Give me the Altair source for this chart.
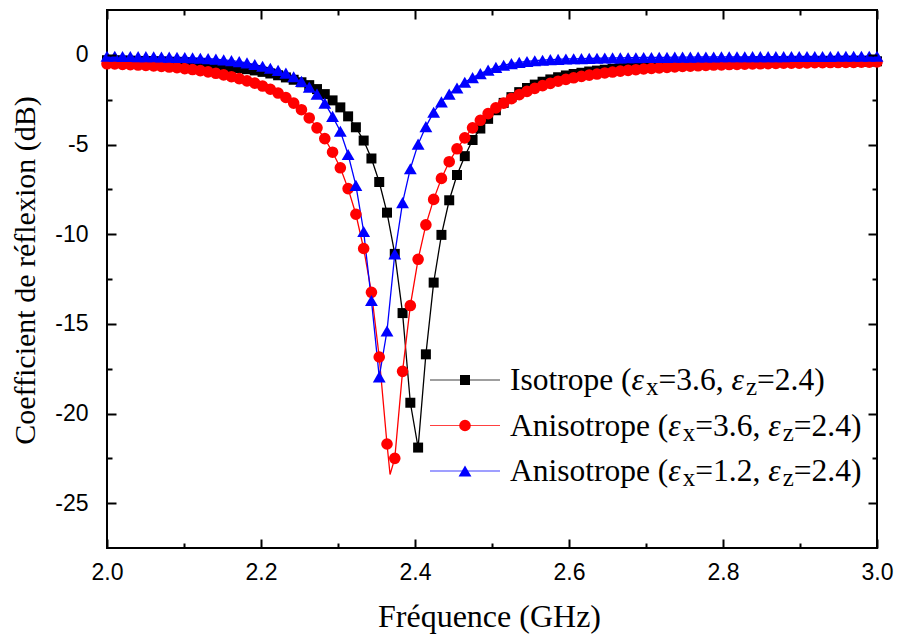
import altair as alt
import numpy as np
import pandas as pd

# ---------------- data ----------------
freq = np.round(np.linspace(2.0, 3.0, 100), 5)  # common frequency grid, GHz

iso_36 = [
    -0.30, -0.31, -0.32, -0.33, -0.34, -0.35, -0.37, -0.38, -0.40, -0.42,
    -0.44, -0.47, -0.50, -0.54, -0.58, -0.63, -0.68, -0.74, -0.80, -0.87,
    -0.95, -1.04, -1.14, -1.26, -1.39, -1.53, -1.69, -1.91, -2.19, -2.54,
    -2.93, -3.43, -4.04, -4.78, -5.78, -7.09, -8.80, -11.1, -14.4, -19.4,
    -21.9, -16.7, -12.7, -10.04, -8.11, -6.70, -5.65, -4.75, -4.11, -3.57,
    -3.09, -2.68, -2.36, -2.08, -1.85, -1.66, -1.50, -1.37, -1.25, -1.15,
    -1.07, -1.00, -0.93, -0.88, -0.83, -0.78, -0.74, -0.70, -0.67, -0.64,
    -0.61, -0.59, -0.57, -0.55, -0.53, -0.51, -0.50, -0.48, -0.47, -0.46,
    -0.45, -0.44, -0.43, -0.43, -0.42, -0.41, -0.41, -0.40, -0.40, -0.39,
    -0.39, -0.39, -0.38, -0.38, -0.38, -0.37, -0.37, -0.37, -0.37, -0.36,
]

aniso_36 = [
    -0.50, -0.51, -0.53, -0.55, -0.57, -0.59, -0.62, -0.65, -0.68, -0.72,
    -0.77, -0.82, -0.88, -0.95, -1.03, -1.12, -1.22, -1.33, -1.45, -1.58,
    -1.74, -1.92, -2.13, -2.38, -2.69, -3.06, -3.52, -4.07, -4.67, -5.43,
    -6.30, -7.46, -8.89, -10.8, -13.24, -16.85, -21.7, -22.5, -17.65, -13.98,
    -11.4, -9.48, -8.06, -6.89, -5.96, -5.24, -4.63, -4.07, -3.65, -3.28,
    -2.96, -2.69, -2.44, -2.22, -2.04, -1.87, -1.72, -1.59, -1.47, -1.37,
    -1.28, -1.20, -1.13, -1.07, -1.01, -0.96, -0.91, -0.87, -0.83, -0.79,
    -0.76, -0.73, -0.70, -0.67, -0.65, -0.63, -0.61, -0.59, -0.57, -0.56,
    -0.54, -0.53, -0.52, -0.51, -0.50, -0.49, -0.48, -0.47, -0.46, -0.46,
    -0.45, -0.44, -0.44, -0.43, -0.43, -0.42, -0.42, -0.41, -0.41, -0.40,
]

aniso_12 = [
    -0.08, -0.08, -0.09, -0.09, -0.10, -0.10, -0.11, -0.12, -0.13, -0.14,
    -0.15, -0.17, -0.19, -0.21, -0.24, -0.28, -0.32, -0.38, -0.45, -0.54,
    -0.64, -0.75, -0.87, -1.02, -1.22, -1.48, -1.80, -2.19, -2.69, -3.43,
    -4.26, -5.56, -7.28, -9.85, -13.7, -17.96, -15.4, -11.1, -8.24, -6.35,
    -4.98, -4.00, -3.20, -2.62, -2.19, -1.85, -1.53, -1.27, -1.05, -0.85,
    -0.70, -0.58, -0.49, -0.42, -0.37, -0.33, -0.30, -0.27, -0.25, -0.23,
    -0.22, -0.21, -0.20, -0.19, -0.18, -0.17, -0.17, -0.16, -0.16, -0.15,
    -0.15, -0.14, -0.14, -0.13, -0.13, -0.13, -0.12, -0.12, -0.12, -0.11,
    -0.11, -0.11, -0.11, -0.10, -0.10, -0.10, -0.10, -0.10, -0.09, -0.09,
    -0.09, -0.09, -0.09, -0.09, -0.08, -0.08, -0.08, -0.08, -0.08, -0.08,
]

# the red line reaches a deeper minimum between two markers
aniso_36_line_min_freq = 2.3676
aniso_36_line_min_db = -23.4

series_keys = ["iso", "a36", "a12"]
series_colors = ["#000000", "#ff0000", "#0000ff"]
series_shapes = ["square", "circle", "triangle-up"]
series_sizes = [100, 135, 165]
legend_prefix = ["Isotrope", "Anisotrope", "Anisotrope"]
legend_ex = ["3.6", "3.6", "1.2"]
legend_ez = ["2.4", "2.4", "2.4"]

x_major = [2.0, 2.2, 2.4, 2.6, 2.8, 3.0]
x_minor = [2.1, 2.3, 2.5, 2.7, 2.9]
y_major = [-25, -20, -15, -10, -5, 0]
y_minor = [-22.5, -17.5, -12.5, -7.5, -2.5]

SERIF = "Liberation Serif, Times New Roman, DejaVu Serif, serif"
SANS = "Liberation Sans, Arial, sans-serif"

# ---------------- tables ----------------
rows = []
for key, vals, sz in zip(series_keys, [iso_36, aniso_36, aniso_12], series_sizes):
    for f, v in zip(freq, vals):
        rows.append({"freq": float(f), "db": v, "series": key, "msize": sz})
pts = pd.DataFrame(rows)
line_df = pd.concat(
    [pts, pd.DataFrame([{"freq": aniso_36_line_min_freq, "db": aniso_36_line_min_db,
                         "series": "a36", "msize": 0}])],
    ignore_index=True,
)

W, H = 770, 538
xs = alt.Scale(domain=[2.0, 3.0], nice=False, zero=False)
ys = alt.Scale(domain=[-27.5, 2.5], nice=False, zero=False)
cs = alt.Scale(domain=series_keys, range=series_colors)
shp = alt.Scale(domain=series_keys, range=series_shapes)

LBL = dict(labelFont=SANS, labelFontSize=23, labelColor="black")


def tick_axis(orient, values, size, **kw):
    base = dict(orient=orient, values=values, tickSize=size, offset=-size,
                domain=False, grid=False, tickColor="black", tickWidth=2,
                zindex=1)
    base.update(kw)
    if "labels" not in kw:
        base["labels"] = False
    if "title" not in kw:
        base["title"] = None
    return alt.Axis(**base)


ax_bottom = tick_axis("bottom", x_major, 9, labels=True, format=".1f",
                      labelPadding=13, labelFlush=False, labelOverlap=False,
                      title="Fréquence (GHz)", titleX=382, titleY=77,
                      titleBaseline="middle", titleAlign="center",
                      titleFont=SERIF, titleFontSize=32, titleFontWeight="normal",
                      titleColor="black", **LBL)
ax_left = tick_axis("left", y_major, 9, labels=True, labelExpr="'' + datum.value",
                    labelPadding=19, labelFlush=False, labelOverlap=False,
                    title="Coefficient de réflexion (dB)", titleX=-91, titleY=260,
                    titleBaseline="middle", titleAlign="center",
                    titleFont=SERIF, titleFontSize=30, titleFontWeight="normal",
                    titleColor="black", **LBL)
ax_top = tick_axis("top", x_major, 9)
ax_right = tick_axis("right", y_major, 9)
ax_bottom_m = tick_axis("bottom", x_minor, 5)
ax_left_m = tick_axis("left", y_minor, 5)
ax_top_m = tick_axis("top", x_minor, 5)
ax_right_m = tick_axis("right", y_minor, 5)

lines = alt.Chart(line_df).mark_line(strokeWidth=1.3).encode(
    x=alt.X("freq:Q", scale=xs, axis=ax_bottom),
    y=alt.Y("db:Q", scale=ys, axis=ax_left),
    color=alt.Color("series:N", scale=cs, legend=None),
)
points = alt.Chart(pts).mark_point(filled=True, opacity=1).encode(
    x=alt.X("freq:Q", scale=xs, axis=ax_top),
    y=alt.Y("db:Q", scale=ys, axis=ax_right),
    color=alt.Color("series:N", scale=cs, legend=None),
    shape=alt.Shape("series:N", scale=shp, legend=None),
    size=alt.Size("msize:Q", scale=None, legend=None),
)
inv1 = alt.Chart(pts).mark_point(opacity=0).encode(
    x=alt.X("freq:Q", scale=xs, axis=ax_bottom_m),
    y=alt.Y("db:Q", scale=ys, axis=ax_left_m),
)
inv2 = alt.Chart(pts).mark_point(opacity=0).encode(
    x=alt.X("freq:Q", scale=xs, axis=ax_top_m),
    y=alt.Y("db:Q", scale=ys, axis=ax_right_m),
)

# ---------------- legend (inside plot) ----------------
SERIF_W = {' ': 250, '(': 333, ')': 333, '=': 564, ',': 250, '.': 250, 'I': 333,
           's': 389, 'o': 500, 't': 278, 'r': 333, 'p': 500, 'e': 444, 'A': 722,
           'n': 500, 'i': 278, 'x': 500, 'z': 444}


def text_w(s, size):
    return sum(SERIF_W.get(c, 500) for c in s) * size / 1000.0


FS, FS_SUB, EPS_W = 31.5, 25, 0.46
LEG_LINE_X = (323, 393)
LEG_TEXT_X = 403
LEG_Y0, LEG_DY = 370, 45.5

leg_rows, norm_rows, ital_rows, sub_rows = [], [], [], []
for k, (key, pre, ex, ez, sz) in enumerate(
        zip(series_keys, legend_prefix, legend_ex, legend_ez, series_sizes)):
    yc = LEG_Y0 + k * LEG_DY
    leg_rows.append({"series": key, "x1": LEG_LINE_X[0], "x2": LEG_LINE_X[1],
                     "xm": (LEG_LINE_X[0] + LEG_LINE_X[1]) / 2, "y": yc, "msize": sz})
    yb = yc + 10
    x = LEG_TEXT_X
    pieces = [(pre + " (", "n"), ("ε", "i"), ("x", "s"), ("=" + ex + ", ", "n"),
              ("ε", "i"), ("z", "s"), ("=" + ez + ")", "n")]
    for txt, kind in pieces:
        if kind == "n":
            norm_rows.append({"x": x, "y": yb, "text": txt})
            x += text_w(txt, FS)
        elif kind == "i":
            ital_rows.append({"x": x, "y": yb, "text": txt})
            x += EPS_W * FS
        else:
            sub_rows.append({"x": x, "y": yb + 5, "text": txt})
            x += text_w(txt, FS_SUB)

leg_df = pd.DataFrame(leg_rows)
leg_lines = alt.Chart(leg_df).mark_rule(strokeWidth=1.2, opacity=0.75).encode(
    x=alt.X("x1:Q", scale=None, axis=None), x2="x2:Q",
    y=alt.Y("y:Q", scale=None, axis=None),
    color=alt.Color("series:N", scale=cs, legend=None),
)
leg_pts = alt.Chart(leg_df).mark_point(filled=True, opacity=1).encode(
    x=alt.X("xm:Q", scale=None, axis=None),
    y=alt.Y("y:Q", scale=None, axis=None),
    color=alt.Color("series:N", scale=cs, legend=None),
    shape=alt.Shape("series:N", scale=shp, legend=None),
    size=alt.Size("msize:Q", scale=None, legend=None),
)


def text_layer(df, **style):
    return alt.Chart(pd.DataFrame(df)).mark_text(
        align="left", baseline="alphabetic", font=SERIF, color="black", **style
    ).encode(
        x=alt.X("x:Q", scale=None, axis=None),
        y=alt.Y("y:Q", scale=None, axis=None),
        text="text:N",
    )


t_norm = text_layer(norm_rows, fontSize=FS)
t_ital = text_layer(ital_rows, fontSize=FS, fontStyle="italic")
t_sub = text_layer(sub_rows, fontSize=FS_SUB)

chart = (
    alt.layer(lines, points, inv1, inv2, leg_lines, leg_pts, t_norm, t_ital, t_sub)
    .resolve_scale(x="shared", y="shared")
    .resolve_axis(x="independent", y="independent")
    .properties(width=W, height=H, autosize=alt.AutoSizeParams(type="none"),
                padding={"left": 107, "top": 10, "right": 20, "bottom": 89})
    .configure(background="white")
    .configure_view(stroke="black", strokeWidth=2)
)

chart.save("out.html", embed_options={"renderer": "svg", "actions": False})
